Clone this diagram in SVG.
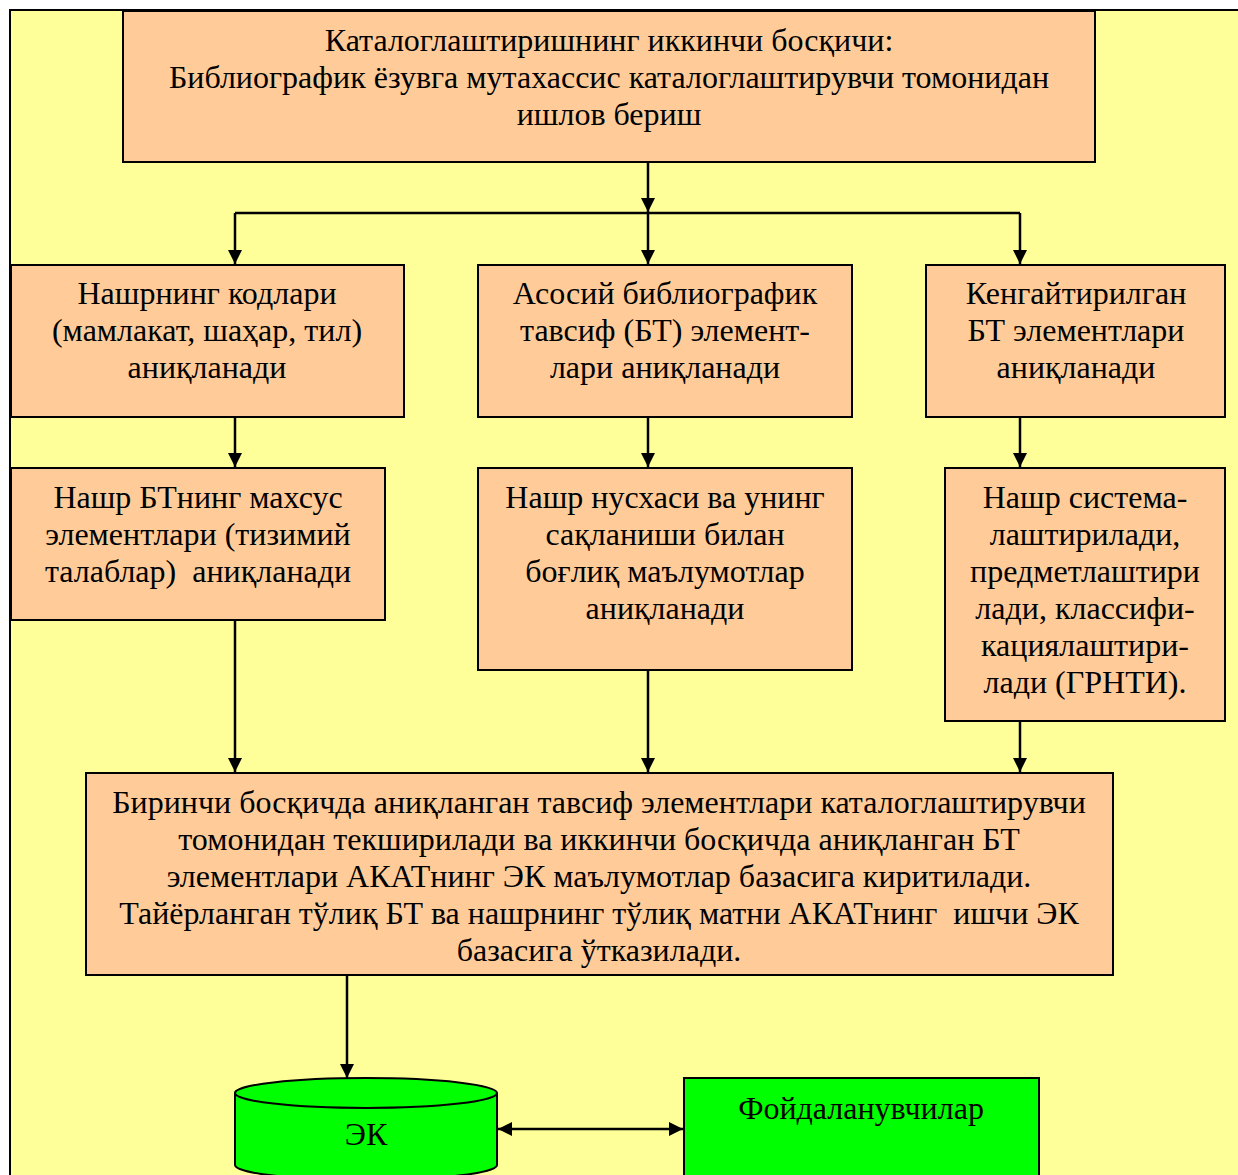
<svg xmlns="http://www.w3.org/2000/svg" width="1238" height="1175" viewBox="0 0 1238 1175">
<defs>
<style>
.box{fill:#FFCC99;stroke:#000;stroke-width:2}
.grn{fill:#00FF00;stroke:#000;stroke-width:2}
.t{font-family:"Liberation Serif","Times New Roman",serif;font-size:32px;fill:#000;text-anchor:middle}
.c{stroke:#000;stroke-width:2.5;fill:none}
</style>
<marker id="ah" viewBox="0 0 10 10" refX="10" refY="5" markerWidth="14" markerHeight="14" markerUnits="userSpaceOnUse" orient="auto-start-reverse">
<path d="M0,0 L10,5 L0,10 z" fill="#000"/>
</marker>
</defs>
<rect x="0" y="0" width="1238" height="1175" fill="#fff"/>
<rect x="10" y="10" width="1240" height="1180" fill="#FFFF99" stroke="#000" stroke-width="2"/>

<g id="connectors">
<path class="c" d="M648,162 V212" marker-end="url(#ah)"/>
<path class="c" d="M235,213 H1020"/>
<path class="c" d="M235,213 V264" marker-end="url(#ah)"/>
<path class="c" d="M648,213 V264" marker-end="url(#ah)"/>
<path class="c" d="M1020,213 V264" marker-end="url(#ah)"/>
<path class="c" d="M235,417 V467" marker-end="url(#ah)"/>
<path class="c" d="M648,417 V467" marker-end="url(#ah)"/>
<path class="c" d="M1020,417 V467" marker-end="url(#ah)"/>
<path class="c" d="M235,620 V772" marker-end="url(#ah)"/>
<path class="c" d="M648,670 V772" marker-end="url(#ah)"/>
<path class="c" d="M1020,721 V772" marker-end="url(#ah)"/>
<path class="c" d="M347,975 V1078" marker-end="url(#ah)"/>
<path class="c" d="M498,1129 H683" marker-start="url(#ah)" marker-end="url(#ah)"/>
</g>

<g id="n-top">
<rect class="box" x="123" y="11" width="972" height="151"/>
<text class="t" x="609" y="51">Каталоглаштиришнинг иккинчи босқичи:</text>
<text class="t" x="609" y="88">Библиографик ёзувга мутахассис каталоглаштирувчи томонидан</text>
<text class="t" x="609" y="125">ишлов бериш</text>
</g>

<g id="n-codes">
<rect class="box" x="11" y="265" width="393" height="152"/>
<text class="t" x="207" y="304">Нашрнинг кодлари</text>
<text class="t" x="207" y="341">(мамлакат, шаҳар, тил)</text>
<text class="t" x="207" y="378">аниқланади</text>
</g>

<g id="n-basic">
<rect class="box" x="478" y="265" width="374" height="152"/>
<text class="t" x="665" y="304">Асосий библиографик</text>
<text class="t" x="665" y="341">тавсиф (БТ) элемент-</text>
<text class="t" x="665" y="378">лари аниқланади</text>
</g>

<g id="n-extended">
<rect class="box" x="926" y="265" width="299" height="152"/>
<text class="t" x="1076" y="304">Кенгайтирилган</text>
<text class="t" x="1076" y="341">БТ элементлари</text>
<text class="t" x="1076" y="378">аниқланади</text>
</g>

<g id="n-special">
<rect class="box" x="11" y="468" width="374" height="152"/>
<text class="t" x="198" y="508">Нашр БТнинг махсус</text>
<text class="t" x="198" y="545">элементлари (тизимий</text>
<text class="t" x="198" y="582" xml:space="preserve">талаблар)  аниқланади</text>
</g>

<g id="n-copy">
<rect class="box" x="478" y="468" width="374" height="202"/>
<text class="t" x="665" y="508">Нашр нусхаси ва унинг</text>
<text class="t" x="665" y="545">сақланиши билан</text>
<text class="t" x="665" y="582">боғлиқ маълумотлар</text>
<text class="t" x="665" y="619">аниқланади</text>
</g>

<g id="n-system">
<rect class="box" x="945" y="468" width="280" height="253"/>
<text class="t" x="1085" y="508">Нашр система-</text>
<text class="t" x="1085" y="545">лаштирилади,</text>
<text class="t" x="1085" y="582">предметлаштири</text>
<text class="t" x="1085" y="619">лади, классифи-</text>
<text class="t" x="1085" y="656">кациялаштири-</text>
<text class="t" x="1085" y="693">лади (ГРНТИ).</text>
</g>

<g id="n-check">
<rect class="box" x="86" y="773" width="1027" height="202"/>
<text class="t" x="599" y="813">Биринчи босқичда аниқланган тавсиф элементлари каталоглаштирувчи</text>
<text class="t" x="599" y="850">томонидан текширилади ва иккинчи босқичда аниқланган БТ</text>
<text class="t" x="599" y="887">элементлари АКАТнинг ЭК маълумотлар базасига киритилади.</text>
<text class="t" x="599" y="924" xml:space="preserve">Тайёрланган тўлиқ БТ ва нашрнинг тўлиқ матни АКАТнинг  ишчи ЭК</text>
<text class="t" x="599" y="961">базасига ўтказилади.</text>
</g>

<g id="n-ek">
<path class="grn" d="M235,1093 V1165 A131,15 0 0 0 497,1165 V1093"/>
<ellipse class="grn" cx="366" cy="1093" rx="131" ry="15"/>
<text class="t" x="366" y="1145">ЭК</text>
</g>

<g id="n-users">
<rect class="grn" x="684" y="1078" width="355" height="110"/>
<text class="t" x="861" y="1119">Фойдаланувчилар</text>
</g>
</svg>
